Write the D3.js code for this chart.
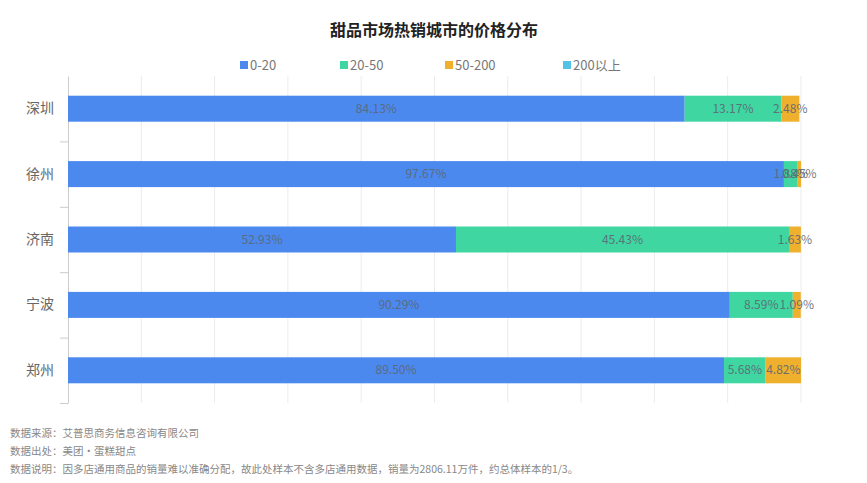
<!DOCTYPE html>
<html><head><meta charset="utf-8">
<script src="https://cdn.jsdelivr.net/npm/d3@7"></script>
<style>
html,body{margin:0;padding:0;background:#fff;}
svg text{font-family:"Noto Sans CJK SC","Noto Sans",sans-serif;}
</style></head>
<body><svg id="c" width="867" height="483"></svg>
<script>
const title = "甜品市场热销城市的价格分布";
const categories = ["深圳","徐州","济南","宁波","郑州"];
const seriesNames = ["0-20","20-50","50-200","200以上"];
const seriesColors = ["#4b89ee","#3fd6a1","#efb02e","#52c3e6"];
const s0_20 = [84.13, 97.67, 52.93, 90.29, 89.50];
const s20_50 = [13.17, 1.88, 45.43, 8.59, 5.68];
const s50_200 = [2.48, 0.45, 1.63, 1.09, 4.82];
const s200 = [0, 0, 0, 0, 0];
const xTicks = [0,10,20,30,40,50,60,70,80,90,100];
const footer = [
  "数据来源：艾普思商务信息咨询有限公司",
  "数据出处：美团·蛋糕甜点",
  "数据说明：因多店通用商品的销量难以准确分配，故此处样本不含多店通用数据，销量为2806.11万件，约总体样本的1/3。"
];

const allSeries = [s0_20, s20_50, s50_200, s200];
const svg = d3.select("#c");
const m = {left:68, right:66, top:76, bottom:80};
const W = 867, H = 483;
const x = d3.scaleLinear().domain([0,100]).range([m.left, W - m.right]);
const y = d3.scaleBand().domain(categories).range([m.top, H - m.bottom]).paddingInner(0.6).paddingOuter(0.3);
const yb = d3.scaleBand().domain(categories).range([m.top, H - m.bottom]);

// title
svg.append("text").attr("x", 434).attr("y", 36).attr("text-anchor","middle")
  .attr("font-size", 16).attr("font-weight","bold").attr("fill","#222").text(title);

// gridlines
svg.append("g").selectAll("line").data(xTicks.slice(1)).join("line")
  .attr("x1", d=>x(d)).attr("x2", d=>x(d))
  .attr("y1", m.top).attr("y2", H - m.bottom)
  .attr("stroke","#ececec").attr("stroke-width",1);

// y axis
const yAxis = d3.axisLeft(yb).tickSize(0).tickPadding(14);
const gy = svg.append("g").attr("transform", `translate(${m.left},0)`).call(yAxis);
gy.select(".domain").attr("stroke","#ccc");
gy.selectAll("text").attr("font-size",14).attr("fill","#666")
  .style("font-family",'"Noto Sans CJK SC",sans-serif');
// band boundary ticks
const bounds = categories.map(c=>yb(c)).slice(1).concat([yb.range()[1]]);
gy.selectAll("line.bt").data(bounds).join("line").attr("class","bt")
  .attr("x1",-8).attr("x2",0).attr("y1",d=>d+0.5).attr("y2",d=>d+0.5).attr("stroke","#ccc");

// stacked data
const rows = categories.map((c,i)=>{
  const o = {cat:c};
  seriesNames.forEach((s,j)=>o[s]=allSeries[j][i]);
  return o;
});
const stack = d3.stack().keys(seriesNames)(rows);
const bh = 26;
const layers = svg.append("g").selectAll("g").data(stack).join("g")
  .attr("fill",(d,i)=>seriesColors[i]);
layers.selectAll("rect").data(d=>d).join("rect")
  .attr("x", d=>x(d[0])).attr("width", d=>x(d[1])-x(d[0]))
  .attr("y", d=>yb(d.data.cat)+yb.bandwidth()/2-bh/2).attr("height", bh);

// labels
const lab = svg.append("g");
stack.forEach((layer)=>{
  layer.forEach(d=>{
    const v = d[1]-d[0];
    if (v <= 0) return;
    lab.append("text")
      .attr("x", (x(d[0])+x(d[1]))/2)
      .attr("y", yb(d.data.cat)+yb.bandwidth()/2+4)
      .attr("text-anchor","middle").attr("font-size",12)
      .attr("fill","#5d6673").attr("fill-opacity",0.9)
      .text(v.toFixed(2)+"%");
  });
});

// legend
const legendX = [240, 340, 445, 563];
const lg = svg.append("g");
seriesNames.forEach((s,i)=>{
  lg.append("rect").attr("x",legendX[i]).attr("y",61).attr("width",8).attr("height",8).attr("fill",seriesColors[i]);
  lg.append("text").attr("x",legendX[i]+10).attr("y",70).attr("font-size",13).attr("fill","#777").text(s);
});

// footer
footer.forEach((t,i)=>{
  svg.append("text").attr("x",10).attr("y",437+i*18).attr("font-size",10.5).attr("fill","#888").text(t);
});
</script></body></html>
